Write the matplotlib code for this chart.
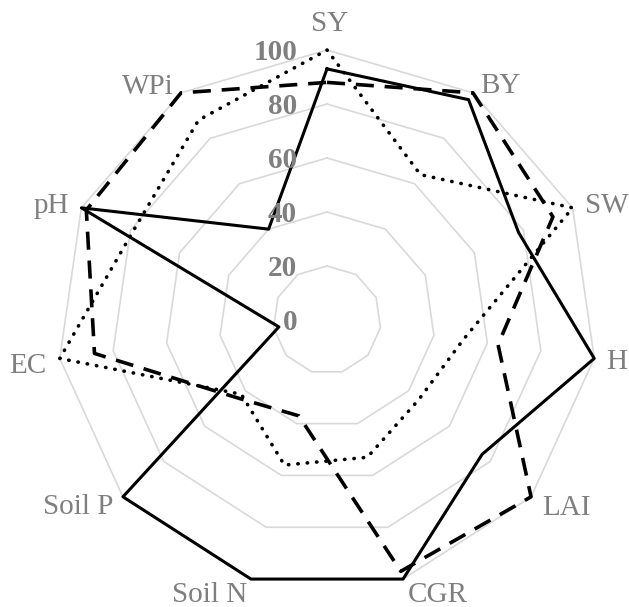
import numpy as np
import matplotlib.pyplot as plt

categorias = ['SY', 'BY', 'SW', 'H', 'LAI', 'CGR', 'Soil N', 'Soil P', 'EC', 'pH', 'WPi']
serie_1 = [93, 97, 78, 100, 76, 100, 100, 100, 18, 100, 40]
serie_2 = [88, 100, 92, 64, 100, 97, 37, 44, 87, 98, 100]
serie_3 = [100, 64, 100, 51, 45, 53, 56, 42, 100, 79, 88]
niveles = [0, 20, 40, 60, 80, 100]

plt.rcParams['font.family'] = ['Liberation Serif', 'DejaVu Serif']
gris = '#7f7f7f'

fig = plt.figure(figsize=(6.29, 6.07), dpi=100)
ax = fig.add_axes([57/629, 17/607, 540/629, 540/607], projection='polar')
ax.set_theta_zero_location('N')
ax.set_theta_direction(-1)
ax.set_ylim(0, 100)
ax.set_axis_off()

angulos = np.linspace(0, 2*np.pi, len(categorias), endpoint=False)
cerrado = np.append(angulos, angulos[0])

# anillos de la rejilla (poligonos)
for n in niveles[1:]:
    ax.plot(cerrado, [n]*len(cerrado), color='#d9d9d9', lw=1.2, zorder=1, clip_on=False)

ax.plot(cerrado, serie_1 + serie_1[:1], color='black', lw=2.2, zorder=3, clip_on=False)
ax.plot(cerrado, serie_2 + serie_2[:1], color='black', lw=2.6, ls=(0, (5, 3)), zorder=3, clip_on=False)
ax.plot(cerrado, serie_3 + serie_3[:1], color='black', lw=2.6, ls=(0, (0.1, 2.5)),
        dash_capstyle='round', zorder=3, clip_on=False)

# desplazamiento de cada etiqueta (px) y alineacion
despl = [(3, 19, 'center'), (7, 0, 'left'), (12, -5, 'left'), (12, -11, 'left'),
         (11, -18, 'left'), (5, -23, 'left'), (-4, -23, 'right'), (-10, -17, 'right'),
         (-13, -15, 'right'), (-12, -5, 'right'), (-7, -1, 'right')]
for ang, cat, (dx, dy, ha) in zip(angulos, categorias, despl):
    ax.annotate(cat, xy=(ang, 100), xytext=(dx*0.72, dy*0.72), textcoords='offset points',
                ha=ha, va='baseline', fontsize=21, color=gris, annotation_clip=False)

for n in niveles:
    ax.annotate(str(n), xy=(0, n), xytext=(-30*0.72, -10*0.72), textcoords='offset points',
                ha='right', va='baseline', fontsize=21, fontweight='bold', color=gris,
                zorder=5, annotation_clip=False)

fig.savefig('out.png', dpi=100)
